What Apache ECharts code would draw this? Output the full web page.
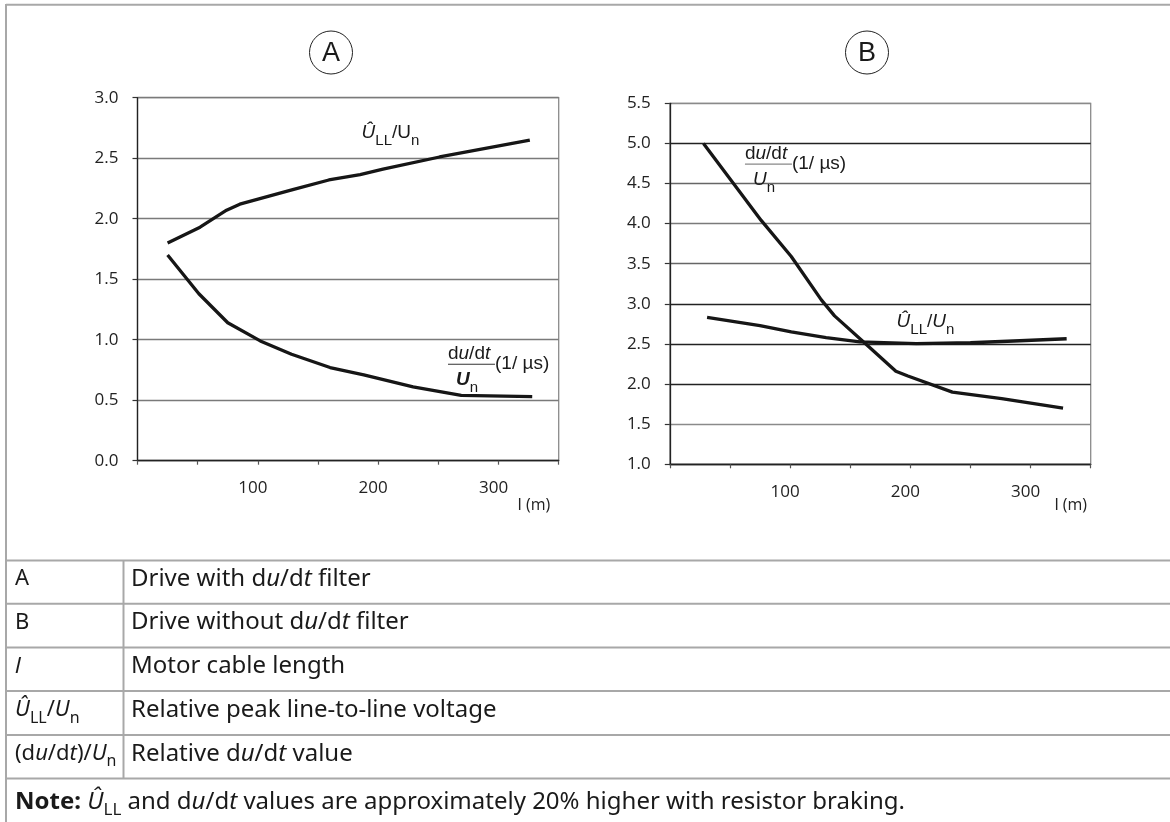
<!DOCTYPE html>
<html><head><meta charset="utf-8">
<script src="https://cdn.jsdelivr.net/npm/echarts@6/dist/echarts.min.js"></script>
<style>html,body{margin:0;padding:0;background:#fff;overflow:hidden}#c{width:1170px;height:822px}</style>
</head><body><div id="c"></div>
<script>
// ---- Data ----
// Chart A: drive with du/dt filter
const aLenUll = [25, 52, 74, 85, 129, 159, 185, 204, 251, 326];
const aUll    = [1.80, 1.93, 2.07, 2.12, 2.24, 2.32, 2.365, 2.41, 2.51, 2.65];
const aLenDu  = [25, 51, 75, 102, 128, 160, 188, 229, 269, 328];
const aDu     = [1.70, 1.38, 1.14, 0.99, 0.88, 0.77, 0.71, 0.61, 0.54, 0.53];
// Chart B: drive without du/dt filter
const bLenDu  = [28, 76, 101, 126, 137, 163, 188, 198, 235, 276, 327];
const bDu     = [5.00, 4.04, 3.59, 3.05, 2.85, 2.50, 2.16, 2.10, 1.90, 1.82, 1.70];
const bLenUll = [31, 75, 101, 130, 158, 205, 250, 291, 330];
const bUll    = [2.83, 2.73, 2.65, 2.58, 2.525, 2.505, 2.515, 2.54, 2.565];
// Axis tick labels
const xTickLabels = ['100', '200', '300'];
const aYRange = [0, 3, 0.5];
const bYRange = [1, 5.5, 0.5];
const xRange = [0, 350, 50];
// Table texts
const tableKeys = ['{r|A}', '{r|B}', '{i|l}', '{i|Û}{s|LL}{r|/}{i|U}{s|n}', '{r|(d}{i|u}{r|/d}{i|t}{r|)/}{i|U}{s|n}'];
const tableDescs = [
  '{r|Drive with d}{i|u}{r|/d}{i|t}{r| filter}',
  '{r|Drive without d}{i|u}{r|/d}{i|t}{r| filter}',
  '{r|Motor cable length}',
  '{r|Relative peak line-to-line voltage}',
  '{r|Relative d}{i|u}{r|/d}{i|t}{r| value}'
];
const noteText = '{b|Note:}{r| }{i|Û}{s|LL}{r| and d}{i|u}{r|/d}{i|t}{r| values are approximately 20% higher with resistor braking.}';

const zip = (xs, ys) => xs.map((x, i) => [x, ys[i]]);

const chart = echarts.init(document.getElementById('c'), null, {renderer: 'canvas'});

function xAxisCfg(gi) {
  return {
    type: 'value', gridIndex: gi, min: xRange[0], max: xRange[1], interval: xRange[2],
    axisLine: {show: true, lineStyle: {color: '#222', width: 1.3}},
    axisTick: {show: true, length: 4, lineStyle: {color: '#555', width: 1.2}},
    splitLine: {show: false},
    axisLabel: {
      margin: 19, color: '#222', fontSize: 17, fontFamily: 'Open Sans',
      padding: [0, 10, 0, 0],
      formatter: v => xTickLabels.indexOf(String(v)) >= 0 ? String(v) : ''
    }
  };
}
function yAxisCfg(gi, r, colors) {
  return {
    type: 'value', gridIndex: gi, min: r[0], max: r[1], interval: r[2],
    axisLine: {show: true, lineStyle: {color: '#222', width: 1.3}},
    axisTick: {show: true, length: 5, lineStyle: {color: '#333', width: 1.2}},
    splitLine: {show: true, lineStyle: {color: colors, width: 1.3}},
    axisLabel: {margin: 19, color: '#222', fontSize: 17, fontFamily: 'Open Sans', formatter: v => v.toFixed(1)}
  };
}
const lineSeries = (xi, data) => ({
  type: 'line', xAxisIndex: xi, yAxisIndex: xi, data: data, symbol: 'none', smooth: false,
  lineStyle: {color: '#161616', width: 3.3, cap: 'butt', join: 'round'}, silent: true, z: 5
});

chart.setOption({
  animation: false,
  backgroundColor: '#fff',
  grid: [
    {left: 137.5, top: 97.7, width: 421.2, height: 363, show: true, borderColor: '#8a8a8a', borderWidth: 1.3},
    {left: 669.8, top: 103.3, width: 420.9, height: 361, show: true, borderColor: '#8a8a8a', borderWidth: 1.3}
  ],
  xAxis: [xAxisCfg(0), xAxisCfg(1)],
  yAxis: [
    yAxisCfg(0, aYRange, ['#7a7a7a']),
    yAxisCfg(1, bYRange, ['#222', '#8a8a8a', '#222', '#222', '#222', '#666', '#7a7a7a', '#666', '#222', '#8a8a8a'])
  ],
  series: [
    lineSeries(0, zip(aLenUll, aUll)),
    lineSeries(0, zip(aLenDu, aDu)),
    lineSeries(1, zip(bLenDu, bDu)),
    lineSeries(1, zip(bLenUll, bUll))
  ]
});

// ---- Annotations ----
function rich(base, sub, fam, color) {
  const c = color || '#1a1a1a';
  const lh = base + 4;
  return {
    r: {fontSize: base, fontFamily: fam, lineHeight: lh, verticalAlign: 'top', fill: c, color: c},
    i: {fontSize: base, fontFamily: fam, fontStyle: 'italic', lineHeight: lh, verticalAlign: 'top', fill: c, color: c},
    bi: {fontSize: base, fontFamily: fam, fontStyle: 'italic', fontWeight: 'bold', lineHeight: lh, verticalAlign: 'top', fill: c, color: c},
    b: {fontSize: base, fontFamily: fam, fontWeight: 'bold', lineHeight: lh, verticalAlign: 'top', fill: c, color: c},
    s: {fontSize: sub, fontFamily: fam, lineHeight: sub, padding: [Math.round(base * 0.5), 0, 0, 0], verticalAlign: 'top', fill: c, color: c}
  };
}
function txt(x, y, text, r, align, valign) {
  return {type: 'text', x: x, y: y, silent: true, z: 10,
    style: {text: text, rich: r, align: align, verticalAlign: valign, textAlign: align, textVerticalAlign: valign}};
}
const chartFam = 'Liberation Sans';
const gEls = [];

// frame + table lines
const lineCol = '#a8a8a8';
const hl = (y) => ({type: 'line', silent: true, shape: {x1: 6, y1: y, x2: 1170, y2: y}, style: {stroke: lineCol, lineWidth: 2}});
gEls.push(hl(4.7));
gEls.push({type: 'line', silent: true, shape: {x1: 6, y1: 4, x2: 6, y2: 822}, style: {stroke: lineCol, lineWidth: 2}});
const rowLines = [560.5, 603.8, 647.5, 691, 735, 778.6];
rowLines.forEach(y => gEls.push(hl(y)));
gEls.push({type: 'line', silent: true, shape: {x1: 123.5, y1: 560.5, x2: 123.5, y2: 778.6}, style: {stroke: lineCol, lineWidth: 2}});

const tRich = rich(24, 17, 'Noto Sans', '#1a1a1a');
const kRich = rich(22, 16, 'Noto Sans', '#1a1a1a');
for (let i = 0; i < tableKeys.length; i++) {
  const cy = (rowLines[i] + rowLines[i + 1]) / 2 - 1;
  gEls.push(txt(15, cy, tableKeys[i], kRich, 'left', 'middle'));
  gEls.push(txt(131, cy, tableDescs[i], tRich, 'left', 'middle'));
}
gEls.push(txt(15, 804, noteText, tRich, 'left', 'middle'));

// circled letters
[[331, 'A'], [867, 'B']].forEach(([cx, L]) => {
  gEls.push({type: 'circle', silent: true, shape: {cx: cx, cy: 52.5, r: 21.5}, style: {fill: 'none', stroke: '#222', lineWidth: 1}});
  gEls.push({type: 'text', silent: true, x: cx, y: 53.5, style: {text: L, fontSize: 27, fontFamily: chartFam, fill: '#1a1a1a', align: 'center', verticalAlign: 'middle', textAlign: 'center', textVerticalAlign: 'middle'}});
});

// curve labels (placed by data coordinates)
const cRich = rich(19, 15, chartFam, '#1a1a1a');
const pA = chart.convertToPixel({gridIndex: 0}, [210.2, 2.69]);
gEls.push(txt(pA[0], pA[1], '{i|Û}{s|LL}{r|/U}{s|n}', cRich, 'center', 'middle'));
const pB = chart.convertToPixel({gridIndex: 1}, [212.6, 2.75]);
gEls.push(txt(pB[0], pB[1], '{i|Û}{s|LL}{r|/}{i|U}{s|n}', cRich, 'center', 'middle'));

function frac(gi, pt, boldU, barCol) {
  const p = chart.convertToPixel({gridIndex: gi}, pt);
  const ax = p[0], ay = p[1];
  gEls.push({type: 'line', silent: true, z: 10, shape: {x1: ax, y1: ay, x2: ax + 47, y2: ay}, style: {stroke: barCol, lineWidth: 1.2}});
  gEls.push(txt(ax, ay + 3, '{r|d}{i|u}{r|/d}{i|t}', cRich, 'left', 'bottom'));
  gEls.push(txt(ax + 47, ay + 2, '{r|(1/ µs)}', cRich, 'left', 'middle'));
  gEls.push(txt(ax + 8, ay + 6, (boldU ? '{bi|U}' : '{i|U}') + '{s|n}', cRich, 'left', 'top'));
}
frac(0, [258, 0.797], true, '#333');
frac(1, [62.5, 4.743], false, '#888');

// axis unit labels
function unitLabel(gi, xv, yv, dy) {
  const p = chart.convertToPixel({gridIndex: gi}, [xv, yv]);
  gEls.push({type: 'text', silent: true, x: p[0], y: p[1] + dy,
    style: {text: '{a|l}{b| (m)}', rich: {a: {fontSize: 17, fontFamily: 'Open Sans', fill: '#222', verticalAlign: 'bottom'}, b: {fontSize: 16, fontFamily: 'Open Sans', fill: '#222', verticalAlign: 'bottom'}},
      align: 'right', verticalAlign: 'middle', textAlign: 'right', textVerticalAlign: 'middle'}});
}
unitLabel(0, 343, 0, 44);
unitLabel(1, 347, 1, 41);

chart.setOption({graphic: {elements: gEls}});
</script>
</body></html>
